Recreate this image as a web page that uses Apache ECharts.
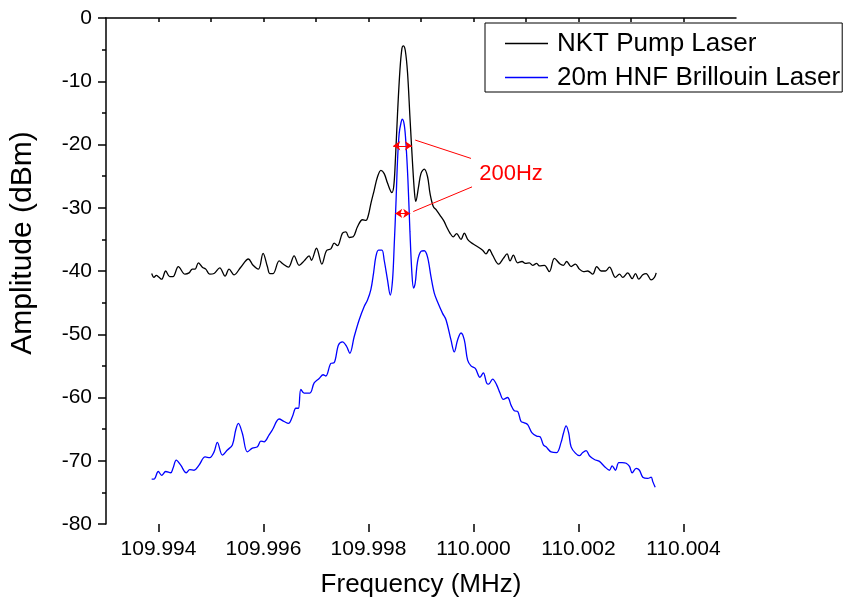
<!DOCTYPE html>
<html>
<head>
<meta charset="utf-8">
<script src="https://cdn.jsdelivr.net/npm/echarts@6/dist/echarts.min.js"></script>
<style>
  html, body { margin: 0; padding: 0; background: #fff; }
  #chart { width: 847px; height: 608px; }
</style>
</head>
<body>
<div id="chart"></div>
<script>
// NKT pump laser spectrum (MHz, dBm)
const freqNKT = [
  109.993870, 109.993914, 109.993958, 109.994010, 109.994061, 109.994137, 109.994214, 109.994276,
  109.994378, 109.994505, 109.994582, 109.994644, 109.994696, 109.994759, 109.994835, 109.994900,
  109.994976, 109.995058, 109.995167, 109.995268, 109.995344, 109.995440, 109.995567, 109.995712,
  109.995802, 109.995903, 109.995992, 109.996074, 109.996120, 109.996183, 109.996298, 109.996374,
  109.996475, 109.996583, 109.996679, 109.996774, 109.996869, 109.996913, 109.997009, 109.997112,
  109.997199, 109.997283, 109.997346, 109.997409, 109.997504, 109.997569, 109.997632, 109.997708,
  109.997790, 109.997886, 109.997951, 109.998000, 109.998046, 109.998109, 109.998172, 109.998237,
  109.998299, 109.998362, 109.998446, 109.998481, 109.998509, 109.998553, 109.998599, 109.998637,
  109.998662, 109.998700, 109.998744, 109.998789, 109.998839, 109.998877, 109.998900, 109.998953,
  109.998999, 109.999062, 109.999125, 109.999171, 109.999234, 109.999297, 109.999380, 109.999443,
  109.999487, 109.999552, 109.999615, 109.999678, 109.999762, 109.999825, 109.999888, 109.999952,
  110.000048, 110.000174, 110.000238, 110.000301, 110.000364, 110.000479, 110.000568, 110.000639,
  110.000696, 110.000759, 110.000841, 110.000925, 110.000988, 110.001064, 110.001127, 110.001203,
  110.001255, 110.001350, 110.001445, 110.001541, 110.001649, 110.001712, 110.001775, 110.001859,
  110.001941, 110.002017, 110.002094, 110.002176, 110.002271, 110.002347, 110.002431, 110.002513,
  110.002589, 110.002704, 110.002780, 110.002843, 110.002938, 110.003022, 110.003085, 110.003148,
  110.003224, 110.003289, 110.003384, 110.003447, 110.003480
];
const ampNKT = [
  -40.4, -41.0, -40.7, -41.0, -41.3, -40.0, -40.9, -40.9,
  -39.3, -40.5, -40.3, -39.7, -39.7, -38.7, -39.4, -39.7,
  -40.5, -40.4, -39.5, -40.8, -39.7, -40.6, -39.4, -38.1,
  -39.1, -39.7, -37.2, -39.3, -40.4, -40.4, -38.4, -38.9,
  -39.4, -37.6, -39.1, -38.4, -37.6, -38.3, -36.4, -38.9,
  -36.8, -36.5, -35.6, -36.0, -34.0, -33.8, -34.7, -34.6,
  -33.0, -31.9, -32.0, -31.1, -29.3, -27.2, -25.1, -24.1,
  -24.6, -26.1, -27.6, -26.6, -23.0, -15.1, -8.2, -4.8,
  -4.4, -5.1, -8.7, -15.6, -23.0, -27.7, -29.0, -26.7,
  -24.6, -23.9, -25.1, -27.7, -29.8, -30.4, -31.4, -32.2,
  -33.0, -34.0, -34.6, -34.1, -35.0, -34.0, -35.0, -35.5,
  -36.0, -36.7, -37.3, -36.6, -37.5, -38.9, -38.0, -37.3,
  -38.4, -37.5, -38.7, -38.5, -38.8, -38.7, -39.1, -38.8,
  -39.2, -39.1, -40.1, -38.0, -38.9, -39.1, -38.5, -39.3,
  -38.9, -39.7, -40.1, -40.0, -40.5, -39.3, -40.0, -40.0,
  -39.4, -41.0, -40.5, -41.0, -40.3, -41.2, -40.4, -41.3,
  -40.6, -40.4, -41.4, -41.0, -40.3
];

// 20m HNF Brillouin laser spectrum (MHz, dBm)
const freqHNF = [
  109.993870, 109.993914, 109.993996, 109.994061, 109.994137, 109.994233, 109.994276, 109.994339,
  109.994423, 109.994530, 109.994595, 109.994677, 109.994772, 109.994887, 109.994976, 109.995058,
  109.995121, 109.995216, 109.995312, 109.995407, 109.995472, 109.995521, 109.995598, 109.995693,
  109.995788, 109.995884, 109.995949, 109.996011, 109.996107, 109.996170, 109.996298, 109.996393,
  109.996475, 109.996551, 109.996616, 109.996665, 109.996711, 109.996774, 109.996883, 109.996965,
  109.997060, 109.997136, 109.997188, 109.997283, 109.997346, 109.997428, 109.997504, 109.997581,
  109.997645, 109.997727, 109.997823, 109.997918, 109.997981, 109.998046, 109.998095, 109.998141,
  109.998191, 109.998256, 109.998299, 109.998362, 109.998414, 109.998458, 109.998490, 109.998523,
  109.998553, 109.998585, 109.998618, 109.998643, 109.998681, 109.998713, 109.998751, 109.998789,
  109.998827, 109.998858, 109.998890, 109.998934, 109.998999, 109.999062, 109.999125, 109.999190,
  109.999253, 109.999316, 109.999411, 109.999476, 109.999571, 109.999634, 109.999697, 109.999762,
  109.999825, 109.999888, 109.999952, 110.000034, 110.000124, 110.000187, 110.000250, 110.000288,
  110.000364, 110.000441, 110.000505, 110.000568, 110.000650, 110.000715, 110.000778, 110.000841,
  110.000906, 110.000969, 110.001032, 110.001115, 110.001203, 110.001268, 110.001331, 110.001382,
  110.001478, 110.001585, 110.001668, 110.001712, 110.001764, 110.001813, 110.001859, 110.001941,
  110.002017, 110.002080, 110.002145, 110.002208, 110.002303, 110.002399, 110.002494, 110.002589,
  110.002641, 110.002704, 110.002767, 110.002831, 110.002908, 110.002971, 110.003022, 110.003098,
  110.003161, 110.003224, 110.003320, 110.003384, 110.003415, 110.003461
];
const ampHNF = [
  -72.9, -72.9, -71.7, -72.3, -71.7, -71.9, -71.2, -69.9,
  -70.7, -71.9, -71.4, -71.5, -70.7, -69.4, -69.5, -68.6,
  -67.1, -69.1, -68.3, -67.5, -65.1, -64.1, -65.7, -68.6,
  -68.0, -67.8, -66.9, -67.0, -65.9, -65.1, -63.4, -63.8,
  -64.1, -63.0, -61.7, -61.7, -58.7, -59.3, -59.3, -57.7,
  -57.0, -56.4, -56.6, -54.6, -54.5, -51.7, -51.2, -51.9,
  -53.0, -50.4, -47.7, -45.6, -44.6, -42.9, -40.4, -37.7,
  -36.7, -36.7, -38.3, -41.4, -43.8, -41.4, -35.9, -29.3,
  -22.5, -18.2, -16.6, -16.0, -16.9, -19.8, -25.6, -33.7,
  -40.4, -42.7, -41.9, -38.5, -36.9, -36.8, -37.8, -40.9,
  -43.5, -44.9, -46.7, -47.7, -50.9, -52.8, -50.9, -49.8,
  -50.9, -54.1, -55.0, -55.4, -56.8, -56.1, -57.7, -57.9,
  -57.1, -58.0, -59.3, -60.3, -60.0, -61.2, -62.1, -62.2,
  -63.8, -64.0, -64.3, -65.6, -66.1, -66.2, -67.5, -67.8,
  -68.6, -68.7, -67.1, -65.7, -64.5, -65.6, -67.8, -68.8,
  -69.2, -68.7, -68.4, -69.2, -69.8, -70.1, -70.9, -71.5,
  -70.8, -71.5, -70.3, -70.3, -70.4, -70.9, -71.9, -71.2,
  -71.5, -72.6, -72.8, -72.6, -73.3, -74.2
];

// x tick positions every 0.001 MHz; labelled ones every 0.002 MHz
const xTickValues = [
  '109.993', '109.994', '109.995', '109.996', '109.997', '109.998', '109.999',
  '110.000', '110.001', '110.002', '110.003', '110.004', '110.005'
];
const seriesNames = ['NKT Pump Laser', '20m HNF Brillouin Laser'];
const widthLabel = '200Hz';

const FONT = '"Liberation Sans", Arial, sans-serif';
const chart = echarts.init(document.getElementById('chart'));

const pairs = (xs, ys) => xs.map((x, i) => [x, ys[i]]);
const isMajor = (v) => Math.round(v * 1000) % 2 === 0;
const red = '#ff0000';

chart.setOption({
  animation: false,
  backgroundColor: '#fff',
  grid: { left: 106, right: 111, top: 18, bottom: 84 },
  legend: {
    data: seriesNames,
    orient: 'vertical',
    left: 485,
    top: 23,
    padding: [7, 2, 1, 20],
    itemGap: 7,
    itemWidth: 43,
    itemHeight: 1.5,
    icon: 'rect',
    borderColor: '#000',
    borderWidth: 1,
    borderRadius: 0,
    textStyle: { fontFamily: FONT, fontSize: 26, lineHeight: 27, color: '#000', padding: [0, 0, 0, 4] },
  },
  xAxis: [{
    type: 'value',
    min: 109.993,
    max: 110.005,
    interval: 0.001,
    name: 'Frequency (MHz)',
    nameLocation: 'middle',
    nameGap: 48,
    nameTextStyle: { fontFamily: FONT, fontSize: 26, color: '#000' },
    axisLine: { lineStyle: { color: '#000', width: 1.5 } },
    axisTick: { length: 4, lineStyle: { color: '#000', width: 1.5 } },
    axisLabel: {
      margin: 15,
      fontFamily: FONT,
      fontSize: 21,
      color: '#000',
      showMinLabel: false,
      showMaxLabel: false,
      formatter: (v) => (isMajor(v) ? v.toFixed(3) : ''),
    },
    splitLine: { show: false },
  }, {
    // longer ticks at the labelled values
    type: 'category',
    data: xTickValues,
    boundaryGap: false,
    position: 'bottom',
    axisLine: { show: false },
    axisTick: {
      length: 8,
      interval: (i, v) => isMajor(parseFloat(v)),
      lineStyle: { color: '#000', width: 1.5 },
    },
    axisLabel: { show: false },
    splitLine: { show: false },
  }],
  yAxis: {
    type: 'value',
    min: -80,
    max: 0,
    interval: 10,
    name: 'Amplitude (dBm)',
    nameLocation: 'middle',
    nameGap: 68,
    nameTextStyle: { fontFamily: FONT, fontSize: 30, color: '#000', padding: [0, 0, 0, 56] },
    axisLine: { show: true, lineStyle: { color: '#000', width: 1.5 } },
    axisTick: { show: true, length: 8, lineStyle: { color: '#000', width: 1.5 } },
    minorTick: { show: true, splitNumber: 2, length: 4, lineStyle: { color: '#000', width: 1.5 } },
    axisLabel: { margin: 14, fontFamily: FONT, fontSize: 21, color: '#000' },
    splitLine: { show: false },
  },
  series: [
    {
      name: seriesNames[0],
      type: 'line',
      data: pairs(freqNKT, ampNKT),
      showSymbol: false,
      symbol: 'none',
      smooth: 0.35,
      color: '#000',
      lineStyle: { color: '#000', width: 1.3 },
      z: 3,
    },
    {
      name: seriesNames[1],
      type: 'line',
      data: pairs(freqHNF, ampHNF),
      showSymbol: false,
      symbol: 'none',
      smooth: 0.35,
      color: '#0000ff',
      lineStyle: { color: '#0000ff', width: 1.3 },
      z: 4,
    },
    {
      // 200 Hz width annotation
      name: 'annotation',
      type: 'line',
      data: [],
      silent: true,
      z: 5,
      markLine: {
        silent: true,
        animation: false,
        label: { show: false },
        lineStyle: { color: red, width: 1, type: 'solid' },
        symbol: ['arrow', 'arrow'],
        symbolSize: 7,
        data: [
          [{ coord: [109.998471, -20.2] }, { coord: [109.998827, -20.2] }],
          [{ coord: [109.998509, -30.9] }, { coord: [109.998795, -30.9] }],
          [{ coord: [109.998890, -19.3], symbol: 'none' }, { coord: [109.999952, -22.2], symbol: 'none' }],
          [{ coord: [109.998852, -30.6], symbol: 'none' }, { coord: [109.999972, -26.7], symbol: 'none' }],
        ],
      },
      markPoint: {
        silent: true,
        animation: false,
        symbol: 'circle',
        symbolSize: 0,
        label: {
          show: true,
          position: 'inside',
          formatter: widthLabel,
          color: red,
          fontFamily: FONT,
          fontSize: 22,
        },
        data: [{ coord: [110.000715, -24.7] }],
      },
    },
  ],
});
</script>
</body>
</html>
